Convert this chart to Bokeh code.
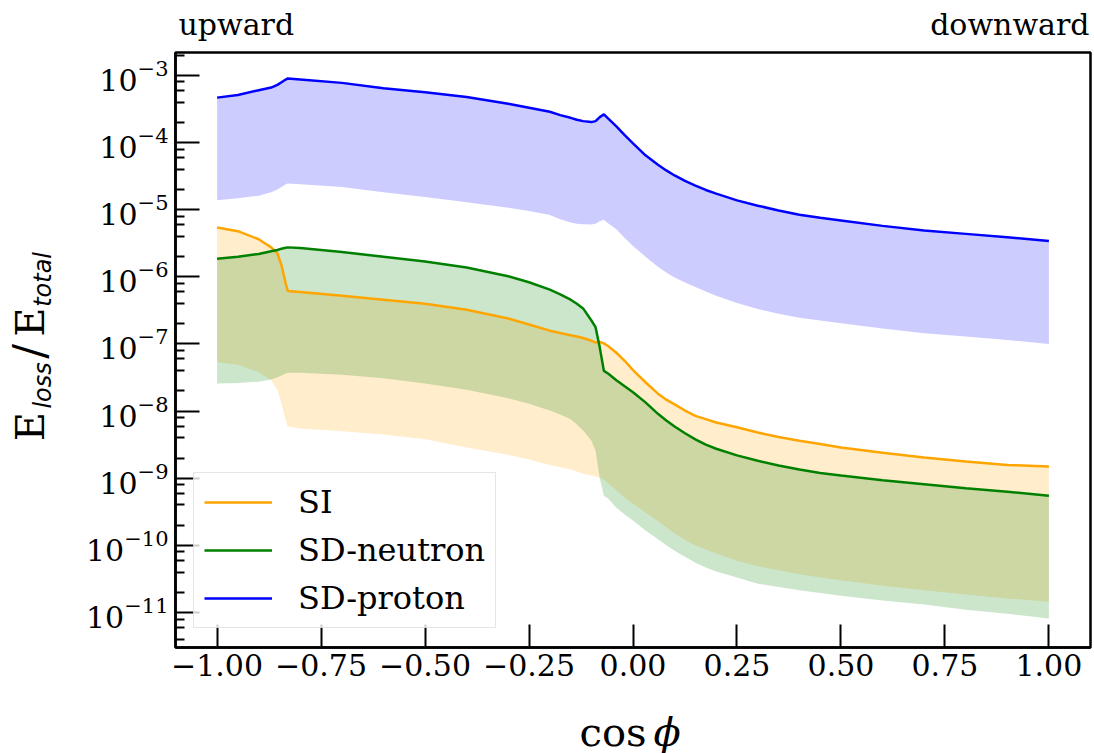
import math
from bokeh.plotting import figure
from bokeh.layouts import column, row
from bokeh.models import (Range1d, FixedTicker, Label, Legend, LegendItem,
                          CustomJSTickFormatter, LogTickFormatter)
from bokeh.embed import file_html
from bokeh.resources import INLINE

# ---------------- data ----------------
cos_phi = [-1.0, -0.95, -0.9, -0.87, -0.855, -0.845, -0.835, -0.83, -0.8, -0.7,
           -0.6, -0.5, -0.4, -0.3, -0.25, -0.2, -0.175, -0.15, -0.135, -0.12,
           -0.1, -0.09, -0.08, -0.07, -0.06, -0.04, -0.02, 0.0, 0.03, 0.06,
           0.08, 0.1, 0.125, 0.15, 0.175, 0.2, 0.25, 0.3, 0.35, 0.4,
           0.45, 0.5, 0.6, 0.7, 0.8, 0.9, 1.0]

si_upper = [5.43e-6, 4.79e-6, 3.63e-6, 2.75e-6, 2.24e-6, 1.48e-6, 7.94e-7, 6.17e-7, 5.96e-7, 5.25e-7,
            4.57e-7, 3.98e-7, 3.24e-7, 2.40e-7, 1.95e-7, 1.58e-7, 1.46e-7, 1.35e-7, 1.29e-7, 1.23e-7,
            1.12e-7, 1.05e-7, 1.07e-7, 1.02e-7, 9.33e-8, 7.41e-8, 5.62e-8, 4.07e-8, 2.69e-8, 1.82e-8,
            1.48e-8, 1.26e-8, 1.02e-8, 8.51e-9, 7.59e-9, 6.76e-9, 5.75e-9, 4.79e-9, 4.12e-9, 3.63e-9,
            3.24e-9, 2.88e-9, 2.40e-9, 2.04e-9, 1.78e-9, 1.58e-9, 1.50e-9]
si_lower = [5.37e-8, 4.90e-8, 3.80e-8, 2.88e-8, 2.04e-8, 1.29e-8, 7.24e-9, 5.89e-9, 5.50e-9, 5.01e-9,
            4.47e-9, 3.80e-9, 2.88e-9, 2.24e-9, 1.91e-9, 1.58e-9, 1.46e-9, 1.35e-9, 1.26e-9, 1.17e-9,
            1.10e-9, 1.07e-9, 1.02e-9, 9.55e-10, 8.32e-10, 6.61e-10, 5.13e-10, 4.17e-10, 3.09e-10, 2.29e-10,
            1.86e-10, 1.51e-10, 1.20e-10, 1.00e-10, 8.71e-11, 7.59e-11, 5.89e-11, 4.90e-11, 4.27e-11, 3.72e-11,
            3.31e-11, 3.02e-11, 2.51e-11, 2.14e-11, 1.86e-11, 1.62e-11, 1.45e-11]

sdn_upper = [1.86e-6, 2.00e-6, 2.19e-6, 2.40e-6, 2.51e-6, 2.63e-6, 2.72e-6, 2.75e-6, 2.69e-6, 2.34e-6,
             2.00e-6, 1.70e-6, 1.38e-6, 1.02e-6, 8.32e-7, 6.46e-7, 5.50e-7, 4.57e-7, 3.98e-7, 3.39e-7,
             2.24e-7, 1.78e-7, 8.91e-8, 3.98e-8, 3.63e-8, 2.88e-8, 2.34e-8, 1.91e-8, 1.35e-8, 9.12e-9,
             7.24e-9, 5.89e-9, 4.68e-9, 3.80e-9, 3.16e-9, 2.75e-9, 2.19e-9, 1.82e-9, 1.55e-9, 1.35e-9,
             1.20e-9, 1.10e-9, 9.33e-10, 8.13e-10, 7.08e-10, 6.31e-10, 5.50e-10]
sdn_lower = [2.57e-8, 2.63e-8, 2.75e-8, 2.95e-8, 3.16e-8, 3.39e-8, 3.63e-8, 3.72e-8, 3.72e-8, 3.47e-8,
             3.09e-8, 2.57e-8, 2.09e-8, 1.55e-8, 1.29e-8, 1.02e-8, 8.91e-9, 7.59e-9, 6.31e-9, 5.13e-9,
             3.63e-9, 2.57e-9, 1.00e-9, 5.50e-10, 5.01e-10, 3.63e-10, 2.88e-10, 2.34e-10, 1.66e-10, 1.23e-10,
             1.00e-10, 8.32e-11, 6.76e-11, 5.50e-11, 4.68e-11, 4.07e-11, 3.31e-11, 2.69e-11, 2.40e-11, 2.14e-11,
             1.95e-11, 1.78e-11, 1.51e-11, 1.32e-11, 1.10e-11, 9.55e-12, 8.13e-12]

sdp_upper = [4.68e-4, 5.13e-4, 6.03e-4, 6.61e-4, 7.24e-4, 7.94e-4, 8.71e-4, 9.02e-4, 8.71e-4, 7.76e-4,
             6.46e-4, 5.62e-4, 4.79e-4, 3.80e-4, 3.31e-4, 2.88e-4, 2.57e-4, 2.34e-4, 2.19e-4, 2.09e-4,
             2.02e-4, 2.09e-4, 2.40e-4, 2.63e-4, 2.29e-4, 1.74e-4, 1.29e-4, 9.77e-5, 6.46e-5, 4.68e-5,
             3.85e-5, 3.24e-5, 2.69e-5, 2.29e-5, 1.97e-5, 1.74e-5, 1.38e-5, 1.15e-5, 9.77e-6, 8.41e-6,
             7.59e-6, 6.92e-6, 5.75e-6, 4.90e-6, 4.37e-6, 3.89e-6, 3.43e-6]
sdp_lower = [1.38e-5, 1.48e-5, 1.62e-5, 1.82e-5, 2.00e-5, 2.19e-5, 2.40e-5, 2.45e-5, 2.40e-5, 2.19e-5,
             1.82e-5, 1.55e-5, 1.29e-5, 1.07e-5, 9.55e-6, 8.32e-6, 7.24e-6, 6.46e-6, 6.17e-6, 6.10e-6,
             6.03e-6, 6.17e-6, 6.76e-6, 7.08e-6, 6.31e-6, 5.13e-6, 3.80e-6, 2.88e-6, 2.00e-6, 1.41e-6,
             1.16e-6, 9.77e-7, 8.22e-7, 7.08e-7, 6.03e-7, 5.25e-7, 4.07e-7, 3.31e-7, 2.82e-7, 2.45e-7,
             2.24e-7, 2.04e-7, 1.70e-7, 1.45e-7, 1.29e-7, 1.15e-7, 1.00e-7]

series_names = ["SI", "SD-neutron", "SD-proton"]
series_colors = ["orange", "green", "blue"]

x_ticks = [-1.0, -0.75, -0.5, -0.25, 0.0, 0.25, 0.5, 0.75, 1.0]
y_ticks = [1e-11, 1e-10, 1e-9, 1e-8, 1e-7, 1e-6, 1e-5, 1e-4, 1e-3]
y_minor_ticks = [m * t for t in [1e-12] + y_ticks for m in (2, 4, 6, 8)]

FONT = "DejaVu Serif"


def strip(w, h, y_top):
    """Blank figure used only to hold text around the main plot."""
    f = figure(width=w, height=h, x_range=Range1d(0, w), y_range=Range1d(y_top + h, y_top),
               x_axis_location=None, y_axis_location=None, output_backend="svg",
               toolbar_location=None, min_border=0)
    f.outline_line_color = None
    f.grid.visible = False
    f.background_fill_color = "white"
    f.border_fill_color = "white"
    return f


# ---------------- main figure ----------------
p = figure(width=1034, height=655, y_axis_type="log",
           x_range=Range1d(-1.1, 1.1), y_range=Range1d(3.01e-12, 2.2e-3),
           output_backend="svg", toolbar_location=None,
           min_border_left=115, min_border_right=4,
           min_border_top=10, min_border_bottom=50)
p.grid.visible = False
p.background_fill_color = "white"
p.border_fill_color = "white"
p.outline_line_color = "black"
p.outline_line_width = 2.5

p.xaxis.ticker = FixedTicker(ticks=x_ticks)
p.xaxis.formatter = CustomJSTickFormatter(code="return tick.toFixed(2).replace('-', '\u2212');")
p.yaxis.ticker = FixedTicker(ticks=y_ticks, minor_ticks=y_minor_ticks)
p.yaxis.formatter = LogTickFormatter()
for ax in (p.xaxis, p.yaxis):
    ax.axis_line_width = 2.5
    ax.axis_line_color = "black"
    ax.major_tick_line_width = 2
    ax.major_tick_line_color = "black"
    ax.major_tick_out = 0
    ax.minor_tick_out = 0
    ax.major_label_text_font = FONT
    ax.major_label_text_font_size = "30px"
    ax.major_label_text_color = "black"
p.xaxis.major_tick_in = 23
p.xaxis.minor_tick_line_color = None
p.xaxis.major_label_standoff = 6
p.yaxis.major_tick_in = 24
p.yaxis.minor_tick_in = 9
p.yaxis.minor_tick_line_width = 2
p.yaxis.minor_tick_line_color = "black"
p.yaxis.major_label_standoff = 7

lowers = [si_lower, sdn_lower, sdp_lower]
uppers = [si_upper, sdn_upper, sdp_upper]
for lo, up, c in zip(lowers, uppers, series_colors):
    p.varea(x=cos_phi, y1=lo, y2=up, fill_color=c, fill_alpha=0.2)
line_renderers = [p.line(cos_phi, up, line_color=c, line_width=2.5)
                  for up, c in zip(uppers, series_colors)]

legend = Legend(items=[LegendItem(label=n, renderers=[r]) for n, r in zip(series_names, line_renderers)],
                location=(18, 19), label_text_font=FONT, label_text_font_size="32px",
                label_text_color="black",
                glyph_width=68, glyph_height=38, label_height=38, label_standoff=26,
                spacing=10, padding=10, margin=0,
                border_line_color="#cccccc", border_line_width=1.5,
                background_fill_color="white", background_fill_alpha=0.8)
p.add_layout(legend)


def lab(fig, text, x, y, size, style="normal", font=FONT, align="left", angle=0.0):
    fig.add_layout(Label(x=x, y=y, text=text, angle=angle, text_font=font,
                         text_font_size=size, text_font_style=style, text_color="black",
                         text_baseline="middle", text_align=align))


# ---------------- text strips ----------------
top = strip(1094, 42, 0)
lab(top, "upward", 178, 24, "30px")
lab(top, "downward", 1089, 24, "30px", align="right")

left = strip(60, 655, 42)
ang = math.pi / 2
lab(left, "E", 29, 470, "40px", angle=ang)
lab(left, "loss", 42, 434, "24px", style="italic", font="DejaVu Sans", angle=ang)
lab(left, "/", 29, 379, "44px", angle=ang)
lab(left, "E", 29, 355, "40px", angle=ang)
lab(left, "total", 42, 322, "24px", style="italic", font="DejaVu Sans", angle=ang)

bottom = strip(1094, 56, 697)
lab(bottom, "cos", 646, 731, "40px", align="right")
lab(bottom, "\u03d5", 653, 731, "40px", style="italic")

layout = column(top, row(left, p, spacing=0), bottom, spacing=0)
open("out.html", "w").write(file_html(layout, INLINE))
